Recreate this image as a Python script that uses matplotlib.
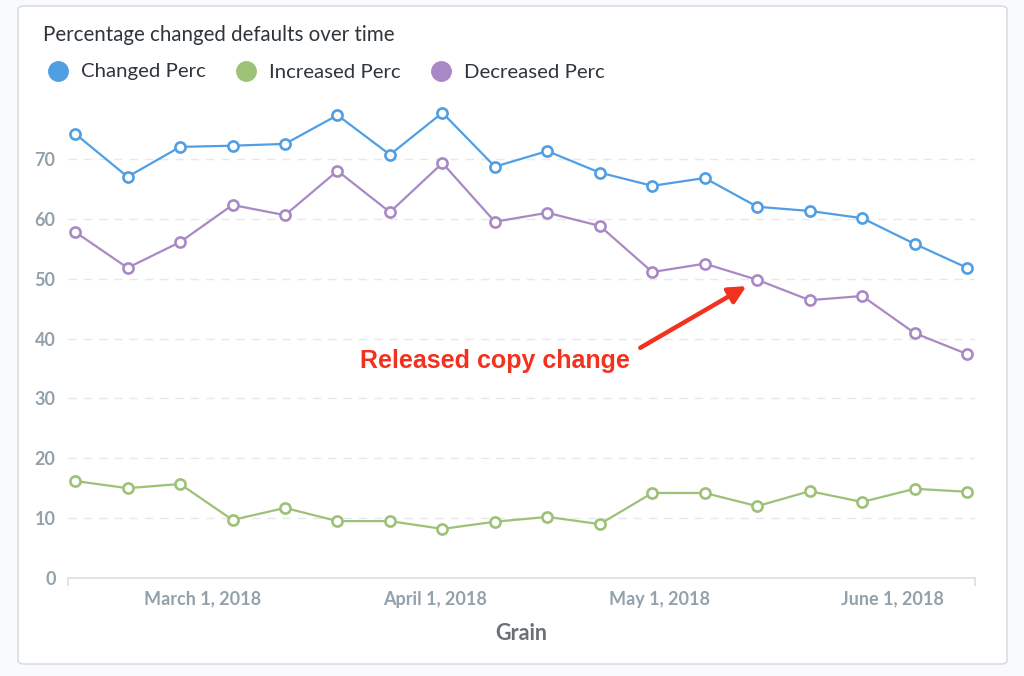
import numpy as np
import pandas as pd
import matplotlib
matplotlib.use('Agg')
import matplotlib.pyplot as plt
import matplotlib.dates as mdates
from matplotlib.patches import FancyBboxPatch
from matplotlib.lines import Line2D

#--------------------------------------------#
# data (weekly grain)
weeks = pd.date_range('2018-02-12', periods=18, freq='7D')
changed_perc = [74.2, 67.0, 72.0, 72.2, 72.5, 77.3, 70.7, 77.7, 68.7, 71.3,
                67.7, 65.5, 66.8, 62.0, 61.3, 60.1, 55.8, 51.8]
increased_perc = [16.2, 15.0, 15.7, 9.7, 11.7, 9.5, 9.5, 8.2, 9.4, 10.2,
                  9.0, 14.2, 14.2, 12.0, 14.5, 12.7, 14.9, 14.4]
decreased_perc = [57.8, 51.8, 56.1, 62.3, 60.6, 68.0, 61.1, 69.3, 59.5, 61.0,
                  58.8, 51.1, 52.5, 49.8, 46.4, 47.1, 40.9, 37.4]
series_names = ['Changed Perc', 'Increased Perc', 'Decreased Perc']
y_ticks = [0, 10, 20, 30, 40, 50, 60, 70]
x_ticks = pd.to_datetime(['2018-03-01', '2018-04-01', '2018-05-01', '2018-06-01'])
annot_idx = 13  # week the copy change went out

# colors
c_blue = '#509ee3'
c_green = '#9cc177'
c_purple = '#a989c5'
c_tick = '#93a1ab'
c_grid = '#e6e8eb'
c_red = '#f2321f'

plt.rcParams['font.family'] = ['Lato', 'DejaVu Sans']

#--------------------------------------------#
fig = plt.figure(figsize=(10.24, 6.76), dpi=100, facecolor='#f9fafb')

# card behind everything
card = FancyBboxPatch((18/1024, 1-664/676), 989/1024, 658/676,
                      boxstyle='round,pad=0,rounding_size=0.006',
                      transform=fig.transFigure, facecolor='white',
                      edgecolor='#d9dde2', linewidth=1.2, zorder=-5)
fig.patches.append(card)

ax = fig.add_axes([68/1024, 1-578/676, (975-68)/1024, (578-99)/676])
ax.set_facecolor('none')

for vals, col in zip([changed_perc, increased_perc, decreased_perc],
                     [c_blue, c_green, c_purple]):
    ax.plot(weeks, vals, '-o', color=col, lw=1.6, markersize=7.3,
            markerfacecolor='white', markeredgecolor=col, markeredgewidth=1.9,
            zorder=3)

ax.set_ylim(0, 80)
ax.set_xlim(weeks[0] - pd.Timedelta(days=0.95), weeks[-1] + pd.Timedelta(days=1.05))
ax.set_yticks(y_ticks)
ax.set_xticks(x_ticks)
ax.xaxis.set_major_formatter(mdates.DateFormatter('%B %-d, %Y'))
ax.set_xticks(list(ax.get_xlim()), minor=True)

for y in y_ticks[1:]:
    ax.axhline(y, color=c_grid, lw=1, dashes=(6, 5), zorder=1)

for s in ['top', 'right', 'left']:
    ax.spines[s].set_visible(False)
ax.spines['bottom'].set_color('#dcdfe3')
ax.spines['bottom'].set_linewidth(1.2)

ax.tick_params(axis='y', length=0, pad=9, labelsize=13, labelcolor=c_tick)
ax.tick_params(axis='x', which='major', length=0, pad=9, labelsize=13, labelcolor=c_tick)
ax.tick_params(axis='x', which='minor', length=6, width=1.2, color='#dcdfe3')
for lab in ax.get_xticklabels() + ax.get_yticklabels():
    lab.set_fontweight('bold')

ax.set_xlabel('Grain', fontsize=15.5, fontweight='bold', color='#6c7075', labelpad=11)

# title and legend
fig.text(43/1024, 1-35/676, 'Percentage changed defaults over time', fontsize=14.8,
         color='#2e353b', va='center', ha='left')
leg_x = [58, 246, 441]
for lx, name, col in zip(leg_x, series_names, [c_blue, c_green, c_purple]):
    fig.lines.append(Line2D([lx/1024], [1-71/676], transform=fig.transFigure,
                            marker='o', markersize=14, color=col, linestyle='none'))
    fig.text((lx+23)/1024, 1-72/676, name, fontsize=14.7, color='#2e353b',
             va='center', ha='left')

# annotation
ax.annotate('', xy=(weeks[annot_idx], decreased_perc[annot_idx]),
            xytext=(-117, -68), textcoords='offset pixels',
            arrowprops=dict(arrowstyle='-|>', color=c_red, lw=3.2,
                            mutation_scale=26, shrinkA=0, shrinkB=9))
ax.annotate('Released copy change', xy=(weeks[annot_idx], decreased_perc[annot_idx]),
            xytext=(-262, -81), textcoords='offset pixels',
            ha='center', va='center', color=c_red, fontsize=18,
            fontweight='bold', family=['Liberation Sans', 'DejaVu Sans'])

fig.savefig('out.png', dpi=100, facecolor=fig.get_facecolor())
